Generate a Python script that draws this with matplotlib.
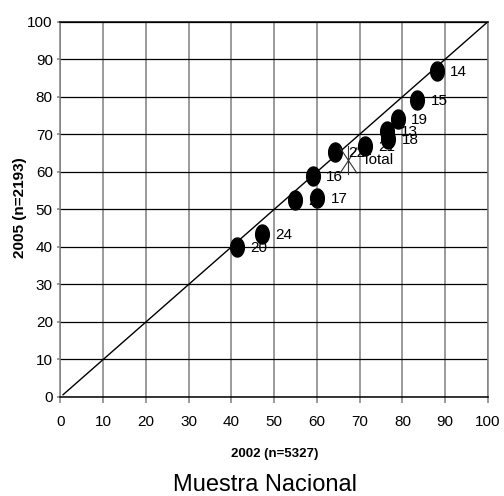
import numpy as np
import matplotlib
matplotlib.use('Agg')
import matplotlib.pyplot as plt
from matplotlib.path import Path

plt.rcParams['font.family'] = ['Liberation Sans', 'DejaVu Sans']

# region values (2002 vs 2005)
labels = ['14', '15', '19', '13', '18', '21', '22', '16', '23', '17', '24', '20']
x2002 = [88.1, 83.5, 79.0, 76.5, 76.7, 71.2, 64.2, 59.1, 54.9, 60.1, 47.1, 41.4]
y2005 = [86.9, 79.1, 74.0, 71.0, 68.7, 67.0, 65.2, 59.0, 52.5, 52.9, 43.4, 40.0]
total_x, total_y = 67.3, 63.1
diag = [0.6, 100]

# tall ellipse marker
t = np.linspace(0, 2 * np.pi, 40)
ellipse = Path(np.column_stack([0.36 * np.cos(t), 0.5 * np.sin(t)]), closed=True)
# asterisk-like marker for the total
star = Path([(-0.3, -0.45), (0.3, 0.45), (-0.3, 0.45), (0.3, -0.45), (0, -0.5), (0, 0.5)],
            [Path.MOVETO, Path.LINETO, Path.MOVETO, Path.LINETO, Path.MOVETO, Path.LINETO])

fig = plt.figure(figsize=(5.04, 4.96), dpi=100)
ax = fig.add_axes([0.120, 0.1996, 0.848, 0.7566])

ax.plot(diag, diag, color='black', lw=1.0, zorder=2)
ax.plot(x2002, y2005, ls='none', marker=ellipse, ms=13.7, color='black', zorder=3)
ax.plot([total_x], [total_y], ls='none', marker=star, ms=21, mfc='none',
        mec='#333333', mew=0.8, zorder=3)

for lab, xv, yv in zip(labels, x2002, y2005):
    ax.annotate(lab, (xv, yv), xytext=(9.5, -0.7), textcoords='offset points',
                ha='left', va='center', fontsize=11, zorder=4)
ax.annotate('Total', (total_x, total_y), xytext=(10, 0), textcoords='offset points',
            ha='left', va='center', fontsize=11, zorder=4)

ax.set_xlim(0, 100)
ax.set_ylim(0, 100)
ax.set_xticks(range(0, 101, 10))
ax.set_yticks(range(0, 101, 10))
ax.grid(True, axis='x', color='#808080', lw=1.1)
ax.grid(True, axis='y', color='black', lw=0.9)
ax.set_axisbelow(True)
ax.spines['top'].set_color('black')
ax.spines['bottom'].set_color('black')
ax.spines['right'].set_color('#808080')
ax.spines['left'].set_color('#808080')
for s in ax.spines.values():
    s.set_linewidth(1.1)
ax.tick_params(axis='x', direction='out', length=4.3, width=1.1, color='#808080',
               pad=8.5, labelsize=11)
ax.tick_params(axis='y', direction='out', length=2.5, width=1.1, color='#808080',
               pad=3, labelsize=11)

fig.text(0.545, 0.0786, '2002 (n=5327)', ha='center', va='baseline', fontsize=9.5,
         fontweight='bold')
fig.text(0.040, 0.582, '2005 (n=2193)', ha='center', va='center', rotation=90,
         fontsize=11, fontweight='bold')
fig.text(0.526, 0.010, 'Muestra Nacional', ha='center', va='baseline', fontsize=17)

fig.savefig('out.png', dpi=100, facecolor='white')
